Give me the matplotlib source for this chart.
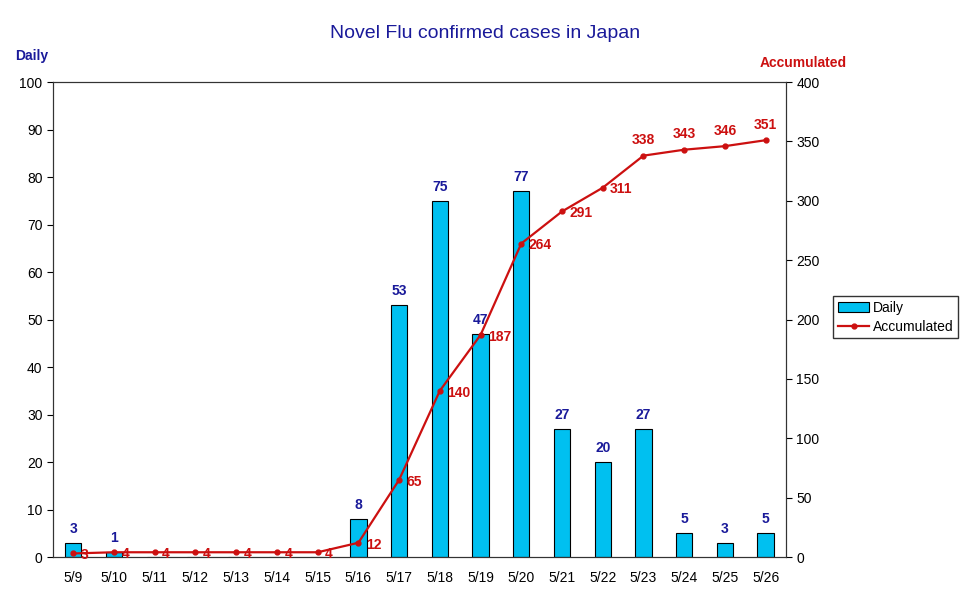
import numpy as np
import matplotlib.pyplot as plt

# ── DATA ────────────────────────────────────────────────────────────────
dates = ["5/9", "5/10", "5/11", "5/12", "5/13", "5/14", "5/15", "5/16", "5/17",
         "5/18", "5/19", "5/20", "5/21", "5/22", "5/23", "5/24", "5/25", "5/26"]
daily = [3, 1, 0, 0, 0, 0, 0, 8, 53, 75, 47, 77, 27, 20, 27, 5, 3, 5]
accumulated = [3, 4, 4, 4, 4, 4, 4, 12, 65, 140, 187, 264, 291, 311, 338, 343, 346, 351]

bar_color = "#00C0F0"
line_color = "#CC1010"
navy = "#1A1A9A"

plt.rcParams['font.family'] = ['Liberation Sans', 'DejaVu Sans']

fig = plt.figure(figsize=(9.7, 6.04), dpi=100)
ax = fig.add_axes([0.0546, 0.0778, 0.7557, 0.7864])
ax2 = ax.twinx()

x = np.arange(len(dates))
bars = ax.bar(x, daily, width=0.4, color=bar_color, edgecolor="black", linewidth=0.8,
              label="Daily", zorder=2)
ln, = ax2.plot(x, accumulated, color=line_color, marker="o", markersize=3.5,
               linewidth=1.6, label="Accumulated", zorder=3)

# daily labels above bars (zeros left out)
for xi, v in zip(x, daily):
    if v > 0:
        ax.text(xi, v + 1.5, str(v), ha="center", va="bottom", color=navy,
                fontsize=10, fontweight="bold")

# accumulated labels: right of the point, above it for the flat top part
for xi, v in zip(x, accumulated):
    if v >= 338:
        ax2.text(xi, v + 7, str(v), ha="center", va="bottom", color=line_color,
                 fontsize=10, fontweight="bold")
    else:
        ax2.text(xi + 0.18, v - 1.5, str(v), ha="left", va="center", color=line_color,
                 fontsize=10, fontweight="bold")

ax.set_xlim(-0.5, len(dates) - 0.5)
ax.set_ylim(0, 100)
ax2.set_ylim(0, 400)
ax.set_yticks(np.arange(0, 101, 10))
ax2.set_yticks(np.arange(0, 401, 50))
ax.set_xticks(x)
ax.set_xticklabels(dates)
ax.tick_params(axis="x", length=0, pad=10, labelsize=10)
ax.tick_params(axis="y", direction="out", length=4, labelsize=10)
ax2.tick_params(axis="y", direction="out", length=4, labelsize=10)
for s in list(ax.spines.values()) + list(ax2.spines.values()):
    s.set_color("#333333")

fig.text(0.5, 0.945, "Novel Flu confirmed cases in Japan", ha="center", va="center",
         color=navy, fontsize=14)
fig.text(0.016, 0.907, "Daily", ha="left", va="center", color=navy,
         fontsize=10, fontweight="bold")
fig.text(0.873, 0.896, "Accumulated", ha="right", va="center", color=line_color,
         fontsize=10, fontweight="bold")

fig.legend([bars, ln], ["Daily", "Accumulated"], loc="center left",
           bbox_to_anchor=(0.852, 0.475), frameon=True, fancybox=False,
           edgecolor="black", fontsize=10, handlelength=2.2, borderpad=0.35,
           labelspacing=0.35, handletextpad=0.3)

plt.savefig("out.png", dpi=100)
